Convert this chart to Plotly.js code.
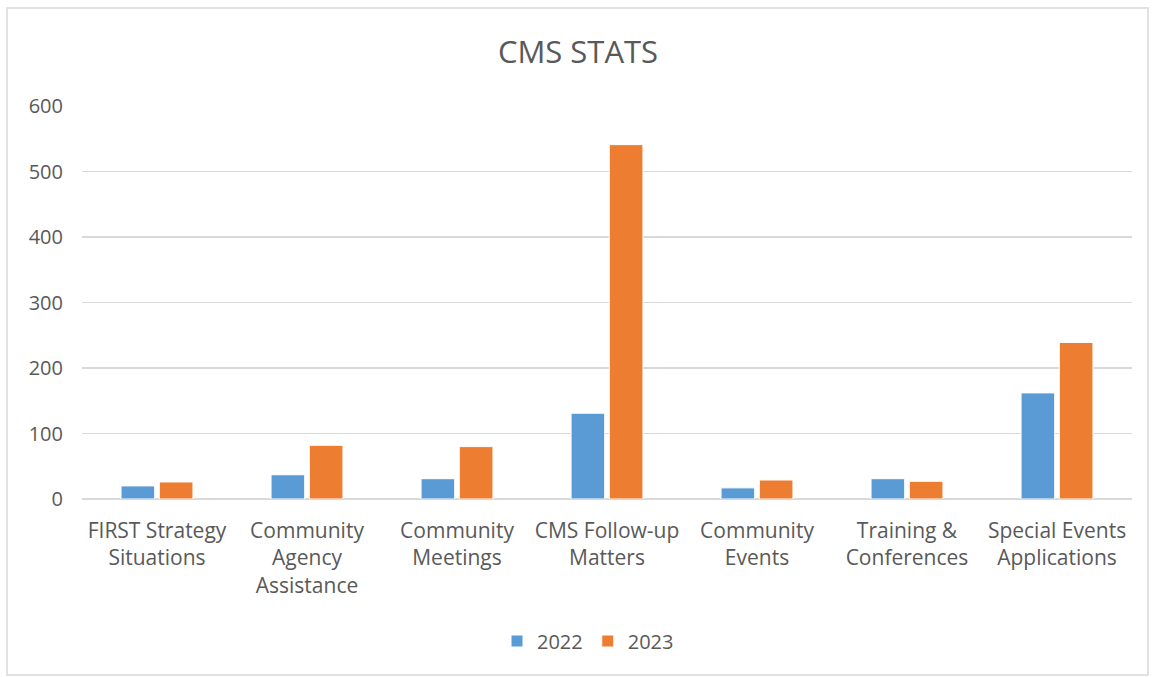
<!DOCTYPE html>
<html>
<head>
<meta charset="utf-8">
<script src="https://cdn.plot.ly/plotly-3.0.1.min.js"></script>
<style>html,body{margin:0;padding:0;background:#fff;}#chart{width:1156px;height:677px;}</style>
</head>
<body>
<div id="chart"></div>
<script>
const categories = [
  "FIRST Strategy<br>Situations",
  "Community<br>Agency<br>Assistance",
  "Community<br>Meetings",
  "CMS Follow-up<br>Matters",
  "Community<br>Events",
  "Training &<br>Conferences",
  "Special Events<br>Applications"
];
const values2022 = [20, 37, 31, 131, 17, 31, 162];
const values2023 = [26, 82, 80, 541, 29, 27, 239];
const seriesNames = ["2022", "2023"];
const yTicks = [0, 100, 200, 300, 400, 500, 600];

const L = 82, R = 1132, T = 106, B = 499;
const px = x => (x - L) / (R - L);
const py = y => (B - y) / (B - T);

const font = "Open Sans, Liberation Sans, sans-serif";
const traces = [
  {type: "bar", name: seriesNames[0], x: categories, y: values2022,
   marker: {color: "#5B9BD5", line: {color: "#ffffff", width: 1}}},
  {type: "bar", name: seriesNames[1], x: categories, y: values2023,
   marker: {color: "#ED7D31", line: {color: "#ffffff", width: 1}}}
];
const layout = {
  width: 1156, height: 677,
  margin: {l: L, r: 1156 - R, t: T, b: 677 - B},
  paper_bgcolor: "#ffffff", plot_bgcolor: "#ffffff",
  font: {family: font, color: "#595959", size: 20},
  title: {text: "CMS STATS", font: {family: font, size: 31, color: "#595959"},
          x: 0.5, xanchor: "center", xref: "container", y: 1 - 52/677, yanchor: "middle", yref: "container"},
  barmode: "group", bargap: 0.49, bargroupgap: 0.12,
  showlegend: true,
  legend: {orientation: "h", x: px(588), xanchor: "center", y: py(641), yanchor: "middle",
           font: {family: font, size: 20, color: "#595959"}, itemwidth: 30, traceorder: "normal"},
  xaxis: {type: "category", showgrid: false, showline: false, ticks: "", tickangle: 0,
          ticklabelstandoff: 17,
          tickfont: {family: font, size: 21, color: "#595959"}, automargin: false},
  yaxis: {range: [0, 600], tickvals: yTicks, ticktext: yTicks.map(String), showgrid: true,
          gridcolor: "#d9d9d9", gridwidth: 1.5, zeroline: true, zerolinecolor: "#d9d9d9", zerolinewidth: 1.5,
          showline: false, ticks: "", ticklabelstandoff: 18,
          tickfont: {family: font, size: 20, color: "#595959"}, automargin: false},
  shapes: [{type: "rect", xref: "paper", yref: "paper",
            x0: px(7), x1: px(1148), y0: py(675), y1: py(8),
            line: {color: "#d9d9d9", width: 1.5}, fillcolor: "rgba(0,0,0,0)", layer: "below"}]
};
Plotly.newPlot("chart", traces, layout, {displayModeBar: false, staticPlot: true});
</script>
</body>
</html>
